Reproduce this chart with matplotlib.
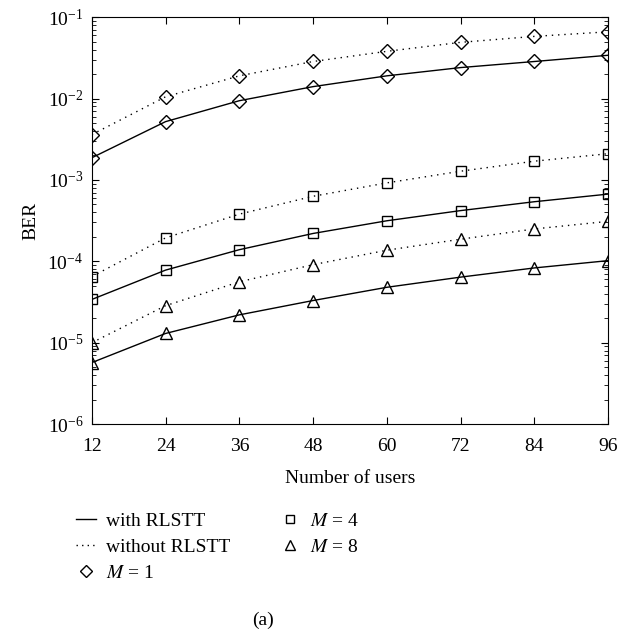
import numpy as np
import matplotlib
matplotlib.use("Agg")
import matplotlib.pyplot as plt
from matplotlib.lines import Line2D

plt.rcParams["font.family"] = "Liberation Serif"
plt.rcParams["mathtext.fontset"] = "stix"

users = [12, 24, 36, 48, 60, 72, 84, 96]

# M = 1
m1_with = [1.87e-3, 5.2e-3, 9.4e-3, 1.4e-2, 1.9e-2, 2.4e-2, 2.85e-2, 3.4e-2]
m1_without = [3.6e-3, 1.05e-2, 1.9e-2, 2.85e-2, 3.8e-2, 4.9e-2, 5.8e-2, 6.6e-2]
# M = 4
m4_with = [3.4e-5, 7.8e-5, 1.39e-4, 2.2e-4, 3.15e-4, 4.2e-4, 5.4e-4, 6.7e-4]
m4_without = [6.5e-5, 1.94e-4, 3.8e-4, 6.3e-4, 9.2e-4, 1.28e-3, 1.7e-3, 2.1e-3]
# M = 8
m8_with = [5.7e-6, 1.3e-5, 2.2e-5, 3.3e-5, 4.8e-5, 6.4e-5, 8.3e-5, 1.02e-4]
m8_without = [1.0e-5, 2.85e-5, 5.6e-5, 9.1e-5, 1.37e-4, 1.87e-4, 2.5e-4, 3.1e-4]

dotted = (0, (1, 3.5))

fig = plt.figure(figsize=(6.2, 6.34), dpi=100)
ax = fig.add_axes([0.148, 0.331, 0.833, 0.642])

mk = dict(color="black", markerfacecolor="none", markeredgewidth=1.0, linewidth=1.0)
ax.plot(users, m1_without, linestyle=dotted, marker="D", markersize=7, **mk)
ax.plot(users, m1_with, "-", marker="D", markersize=7, **mk)
ax.plot(users, m4_without, linestyle=dotted, marker="s", markersize=7, **mk)
ax.plot(users, m4_with, "-", marker="s", markersize=7, **mk)
ax.plot(users, m8_without, linestyle=dotted, marker="^", markersize=9, **mk)
ax.plot(users, m8_with, "-", marker="^", markersize=9, **mk)

ax.set_yscale("log")
ax.set_xlim(12, 96)
ax.set_ylim(1e-6, 1e-1)
ax.set_xticks(users)
ax.tick_params(which="both", direction="in", top=True, right=True, labelsize=14)
ax.tick_params(which="major", length=5, pad=6)
ax.tick_params(axis="x", which="major", pad=10)
ax.tick_params(which="minor", length=3)
ax.set_xlabel("Number of users", fontsize=14, labelpad=11)
ax.set_ylabel("BER", fontsize=14, labelpad=6)

handles = [
    Line2D([], [], color="black", linestyle="-", linewidth=1.0),
    Line2D([], [], color="black", linestyle=(0, (1, 3)), linewidth=1.0),
    Line2D([], [], color="black", linestyle="none", marker="D", markersize=6, markerfacecolor="none"),
    Line2D([], [], color="black", linestyle="none", marker="s", markersize=6, markerfacecolor="none"),
    Line2D([], [], color="black", linestyle="none", marker="^", markersize=7, markerfacecolor="none"),
]
labels = ["with RLSTT", "without RLSTT", r"$M$ = 1", r"$M$ = 4", r"$M$ = 8"]
fig.legend(handles, labels, loc="upper left", bbox_to_anchor=(0.095, 0.219), ncol=2,
           frameon=False, fontsize=14, handlelength=1.0, handletextpad=0.5,
           columnspacing=2.6, labelspacing=0.42)

fig.text(0.424, 0.015, "(a)", fontsize=14, ha="center")

fig.savefig("out.png", dpi=100)
